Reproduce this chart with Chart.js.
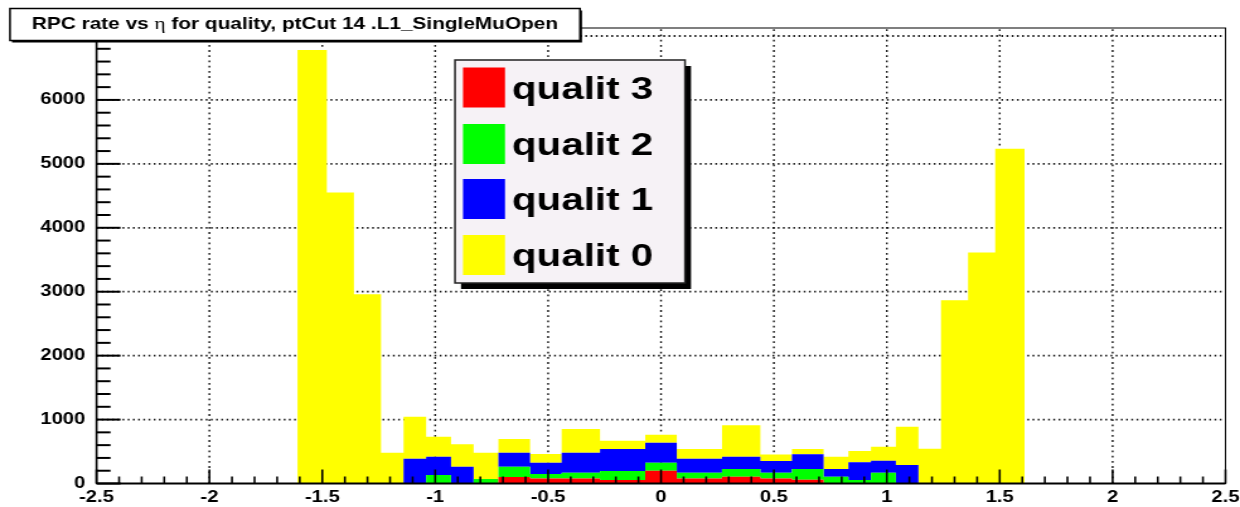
<!DOCTYPE html>
<html>
<head>
<meta charset="utf-8">
<title>RPC rate vs eta for quality</title>
<script src="https://cdn.jsdelivr.net/npm/chart.js@4.4.1/dist/chart.umd.min.js"></script>
<style>
  html, body { margin: 0; padding: 0; background: #fff; overflow: hidden; }
  /* the drawing surface is laid out narrower and stretched sideways, like a wide-screen export */
  #stage { width: 984px; height: 507px; transform: scaleX(1.260163); transform-origin: 0 0; }
</style>
</head>
<body>
<div id="stage"><canvas id="rate"></canvas></div>
<script>
// eta boundaries of the RPC trigger towers (histogram bin edges)
const etaEdges = [-1.61, -1.48, -1.36, -1.24, -1.14, -1.04, -0.93, -0.83, -0.72, -0.58, -0.44, -0.27, -0.07,
                  0.07, 0.27, 0.44, 0.58, 0.72, 0.83, 0.93, 1.04, 1.14, 1.24, 1.36, 1.48, 1.61];

// counts per bin for each quality class (stacked: 3 at the bottom, 0 on top)
const quality3 = [0, 0, 0, 0, 0, 0, 0, 0, 100, 80, 80, 55, 200, 80, 105, 80, 60, 0, 0, 0, 0, 0, 0, 0, 0];
const quality2 = [0, 0, 0, 0, 0, 133, 0, 70, 163, 67, 88, 140, 125, 88, 121, 88, 167, 106, 55, 169, 0, 0, 0, 0, 0];
const quality1 = [0, 0, 0, 0, 388, 286, 263, 0, 218, 177, 312, 344, 313, 219, 192, 183, 229, 121, 276, 187, 289, 0, 0, 0, 0];
const quality0 = [6780, 4550, 2960, 480, 656, 312, 349, 411, 214, 136, 371, 130, 125, 151, 495, 104, 83, 192, 177, 219, 599, 545, 2867, 3612, 5238];

const seriesLabels = ['qualit 3', 'qualit 2', 'qualit 1', 'qualit 0'];
const seriesColors = ['#ff0000', '#00ff00', '#0000ff', '#ffff00'];

const xTickValues = [-2.5, -2, -1.5, -1, -0.5, 0, 0.5, 1, 1.5, 2, 2.5];
const xTickLabels = ['-2.5', '-2', '-1.5', '-1', '-0.5', '0', '0.5', '1', '1.5', '2', '2.5'];
const yTickValues = [0, 1000, 2000, 3000, 4000, 5000, 6000, 7000];
const yTickLabels = ['0', '1000', '2000', '3000', '4000', '5000', '6000', '7000'];

const titleParts = ['RPC rate vs ', '\u03B7', ' for quality, ptCut 14 .L1_SingleMuOpen'];

// ---------------------------------------------------------------------------
const SX = 1240 / 984;            // sideways stretch of the stage
const hx = v => v / SX;           // convert a screen width into stage units
const FONT = '"Liberation Sans", Arial, Helvetica, sans-serif';

// one stepped outline per class: value of bin i held from edge i to edge i+1
function stepPoints(values) {
  return etaEdges.map((x, i) => ({ x, y: values[Math.min(i, values.length - 1)] }));
}

const seriesValues = [quality3, quality2, quality1, quality0];
const datasets = seriesValues.map((vals, k) => ({
  label: seriesLabels[k],
  data: stepPoints(vals),
  stepped: 'before',
  fill: k === 0 ? 'origin' : '-1',
  backgroundColor: seriesColors[k],
  borderColor: 'rgba(0,0,0,0)',
  borderWidth: 0,
  pointRadius: 0,
  pointHoverRadius: 0
}));

// ROOT-like frame: dotted grid, inward ticks, title box and legend box
const rootStyle = {
  id: 'rootStyle',
  beforeDraw(chart) {
    const { ctx, width, height } = chart;
    ctx.save();
    ctx.fillStyle = '#fff';
    ctx.fillRect(0, 0, width, height);
    ctx.restore();
  },
  beforeDatasetsDraw(chart) {
    const { ctx, chartArea: ca, scales: { x, y } } = chart;
    ctx.save();
    ctx.strokeStyle = '#1a1a1a';
    // vertical grid
    ctx.lineWidth = hx(1.8);
    ctx.setLineDash([1.8, 3.4]);
    xTickValues.forEach(v => {
      const px = x.getPixelForValue(v);
      if (px <= ca.left + 1 || px >= ca.right - 1) return;
      ctx.beginPath();
      ctx.moveTo(px, ca.bottom);
      ctx.lineTo(px, ca.top);
      ctx.stroke();
    });
    // horizontal grid
    ctx.lineWidth = 1.8;
    ctx.setLineDash([hx(1.8), hx(3.4)]);
    yTickValues.forEach(v => {
      const py = y.getPixelForValue(v);
      if (py >= ca.bottom - 1 || py <= ca.top + 1) return;
      ctx.beginPath();
      ctx.moveTo(ca.left, py);
      ctx.lineTo(ca.right, py);
      ctx.stroke();
    });
    ctx.restore();
  },
  afterDatasetsDraw(chart) {
    const { ctx, chartArea: ca, scales: { x, y } } = chart;
    ctx.save();
    ctx.strokeStyle = '#000';
    ctx.setLineDash([]);
    // frame
    ctx.lineWidth = 1;
    ctx.strokeRect(ca.left, ca.top, ca.right - ca.left, ca.bottom - ca.top);
    // axes
    ctx.lineWidth = 2;
    ctx.beginPath();
    ctx.moveTo(ca.left, ca.bottom);
    ctx.lineTo(ca.right, ca.bottom);
    ctx.stroke();
    ctx.lineWidth = hx(2);
    ctx.beginPath();
    ctx.moveTo(ca.left, ca.top);
    ctx.lineTo(ca.left, ca.bottom);
    ctx.stroke();
    // x ticks: majors and four minors in between
    ctx.lineWidth = hx(2);
    for (let i = 0; i < xTickValues.length; i++) {
      const v = xTickValues[i];
      const px = x.getPixelForValue(v);
      ctx.beginPath();
      ctx.moveTo(px, ca.bottom);
      ctx.lineTo(px, ca.bottom - 14);
      ctx.stroke();
      if (i + 1 < xTickValues.length) {
        const step = (xTickValues[i + 1] - v) / 5;
        for (let k = 1; k < 5; k++) {
          const pm = x.getPixelForValue(v + k * step);
          ctx.beginPath();
          ctx.moveTo(pm, ca.bottom);
          ctx.lineTo(pm, ca.bottom - 7);
          ctx.stroke();
        }
      }
    }
    // y ticks
    ctx.lineWidth = 2;
    for (let i = 0; i < yTickValues.length; i++) {
      const v = yTickValues[i];
      const py = y.getPixelForValue(v);
      ctx.beginPath();
      ctx.moveTo(ca.left, py);
      ctx.lineTo(ca.left + hx(24), py);
      ctx.stroke();
      const next = i + 1 < yTickValues.length ? yTickValues[i + 1] : v + (v - yTickValues[i - 1]);
      const step = (next - v) / 5;
      for (let k = 1; k < 5; k++) {
        const vm = v + k * step;
        if (vm > y.max) break;
        const pm = y.getPixelForValue(vm);
        ctx.beginPath();
        ctx.moveTo(ca.left, pm);
        ctx.lineTo(ca.left + hx(14), pm);
        ctx.stroke();
      }
    }
    ctx.restore();
  },
  afterDraw(chart) {
    const { ctx } = chart;
    ctx.save();
    ctx.setLineDash([]);

    // title box
    const tb = { x: hx(10), y: 8.5, w: hx(570), h: 32 };
    ctx.fillStyle = '#000';
    ctx.fillRect(tb.x + hx(2), tb.y + 2, tb.w, tb.h);
    ctx.fillStyle = '#fff';
    ctx.fillRect(tb.x, tb.y, tb.w, tb.h);
    ctx.strokeStyle = '#000';
    ctx.lineWidth = 1.5;
    ctx.strokeRect(tb.x, tb.y, tb.w, tb.h);
    const fonts = ['bold 16.5px ' + FONT, '17px "Liberation Serif", "DejaVu Serif", serif', 'bold 16.5px ' + FONT];
    let total = 0;
    const widths = titleParts.map((t, i) => { ctx.font = fonts[i]; const w = ctx.measureText(t).width; total += w; return w; });
    let tx = tb.x + tb.w / 2 - total / 2;
    const baseY = 29;
    ctx.fillStyle = '#000';
    ctx.textBaseline = 'alphabetic';
    ctx.textAlign = 'left';
    titleParts.forEach((t, i) => { ctx.font = fonts[i]; ctx.fillText(t, tx, baseY); tx += widths[i]; });

    // legend box
    const lb = { x: hx(455), y: 60, w: hx(230), h: 223 };
    ctx.fillStyle = '#000';
    ctx.fillRect(lb.x + hx(6), lb.y + 6, lb.w, lb.h);
    ctx.fillStyle = '#f6f2f6';
    ctx.fillRect(lb.x, lb.y, lb.w, lb.h);
    ctx.strokeStyle = '#222';
    ctx.lineWidth = 1.5;
    ctx.strokeRect(lb.x, lb.y, lb.w, lb.h);
    const rowCenters = [87.5, 144, 199, 255];
    ctx.font = 'bold 32px ' + FONT;
    seriesLabels.forEach((label, k) => {
      const cy = rowCenters[k];
      ctx.fillStyle = seriesColors[k];
      ctx.fillRect(hx(463), cy - 20, hx(42), 40);
      ctx.fillStyle = '#000';
      ctx.fillText(label, hx(512), cy + 11);
    });
    ctx.restore();
  }
};

Chart.defaults.font.family = FONT;

new Chart(document.getElementById('rate'), {
  type: 'line',
  data: { datasets },
  options: {
    responsive: true,
    maintainAspectRatio: false,
    animation: false,
    events: [],
    layout: { padding: { left: 0, top: 28, right: 984 - hx(1225.5), bottom: 0 } },
    plugins: { legend: { display: false }, tooltip: { enabled: false }, title: { display: false } },
    scales: {
      x: {
        type: 'linear',
        min: -2.5,
        max: 2.5,
        grid: { display: false, drawTicks: false },
        border: { display: false },
        afterBuildTicks: sc => { sc.ticks = xTickValues.map(v => ({ value: v })); },
        afterFit: sc => { sc.height = 23.5; sc.paddingLeft = 0; sc.paddingRight = 0; },
        ticks: {
          autoSkip: false,
          maxRotation: 0,
          padding: 4,
          color: '#000',
          font: { size: 16, weight: 'bold' },
          callback: (v, i) => xTickLabels[i]
        }
      },
      y: {
        type: 'linear',
        stacked: true,
        min: 0,
        max: 7125,
        grid: { display: false, drawTicks: false },
        border: { display: false },
        afterBuildTicks: sc => { sc.ticks = yTickValues.map(v => ({ value: v })); },
        afterFit: sc => { sc.width = hx(96.5); sc.paddingTop = 0; sc.paddingBottom = 0; },
        ticks: {
          autoSkip: false,
          padding: 9,
          color: '#000',
          font: { size: 16, weight: 'bold' },
          callback: (v, i) => yTickLabels[i]
        }
      }
    }
  },
  plugins: [rootStyle]
});
</script>
</body>
</html>
